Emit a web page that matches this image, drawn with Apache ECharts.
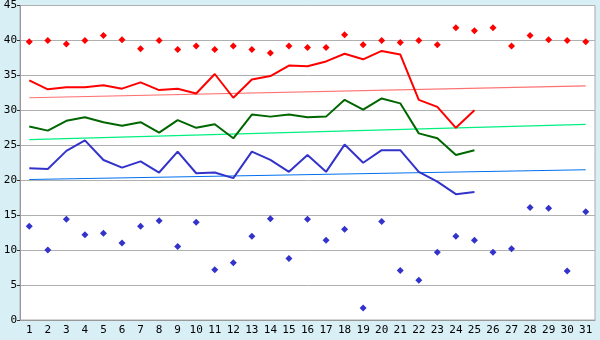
<!DOCTYPE html>
<html>
<head>
<meta charset="utf-8">
<script src="https://cdn.jsdelivr.net/npm/echarts@6/dist/echarts.min.js"></script>
<style>
  html, body { margin: 0; padding: 0; background: #d9eff6; }
  #chart { width: 600px; height: 340px; }
</style>
</head>
<body>
<div id="chart"></div>
<script>
// days of the month
var days = [];
for (var d = 1; d <= 31; d++) days.push(String(d));

// red line (daily high average)
var highLine = [34.3, 33.0, 33.3, 33.3, 33.6, 33.1, 34.0, 32.9, 33.1, 32.4, 35.2, 31.8, 34.4, 34.9, 36.4, 36.3,
  37.0, 38.1, 37.3, 38.5, 38.0, 31.5, 30.5, 27.5, 30.0];
// green line
var midLine = [27.7, 27.1, 28.5, 29.0, 28.3, 27.8, 28.3, 26.8, 28.6, 27.5, 28.0, 26.0, 29.4, 29.1, 29.4, 29.0,
  29.1, 31.5, 30.1, 31.7, 31.0, 26.7, 26.0, 23.6, 24.3];
// blue line
var lowLine = [21.7, 21.6, 24.2, 25.7, 22.9, 21.8, 22.7, 21.1, 24.1, 21.0, 21.1, 20.3, 24.1, 22.9, 21.2, 23.6,
  21.2, 25.1, 22.5, 24.3, 24.3, 21.2, 19.8, 18.0, 18.3];
// red diamonds (record highs)
var highDots = [39.8, 40.0, 39.5, 40.0, 40.7, 40.1, 38.8, 40.0, 38.7, 39.2, 38.7, 39.2, 38.7, 38.2, 39.2, 39.0,
  39.0, 40.8, 39.4, 40.0, 39.7, 40.0, 39.4, 41.8, 41.4, 41.8, 39.2, 40.7, 40.1, 40.0, 39.8];
// blue diamonds (record lows)
var lowDots = [13.4, 10.0, 14.4, 12.2, 12.4, 11.0, 13.4, 14.2, 10.5, 14.0, 7.2, 8.2, 12.0, 14.5, 8.8, 14.4,
  11.4, 13.0, 1.7, 14.1, 7.1, 5.7, 9.7, 12.0, 11.4, 9.7, 10.2, 16.1, 16.0, 7.0, 15.5];
// trend lines: value at day 1 and at day 31
var highTrend = [31.8, 33.5];
var midTrend = [25.8, 28.0];
var lowTrend = [20.1, 21.5];

var yTicks = [0, 5, 10, 15, 20, 25, 30, 35, 40, 45];

function trend(ends) {
  return [[0, ends[0]], [days.length - 1, ends[1]]];
}

var myChart = echarts.init(document.getElementById('chart'));
var font = 'DejaVu Sans Mono';

myChart.setOption({
  backgroundColor: '#d9eff6',
  animation: false,
  grid: {
    left: 20, right: 5, top: 5, bottom: 20,
    show: true,
    backgroundColor: '#ffffff',
    borderColor: '#aaaaaa',
    borderWidth: 1
  },
  xAxis: {
    type: 'category',
    data: days,
    boundaryGap: true,
    axisLine: { lineStyle: { color: '#999999', width: 1 } },
    axisTick: { alignWithLabel: true, length: 4, lineStyle: { color: '#333333' } },
    axisLabel: { color: '#000', fontFamily: font, fontSize: 11, margin: 5, interval: 0 },
    splitLine: { show: false }
  },
  yAxis: {
    type: 'value',
    min: yTicks[0],
    max: yTicks[yTicks.length - 1],
    interval: 5,
    axisLine: { show: true, lineStyle: { color: '#999999', width: 1 } },
    axisTick: { show: true, length: 3, lineStyle: { color: '#333333' } },
    axisLabel: { color: '#000', fontFamily: font, fontSize: 11, margin: 3 },
    splitLine: { lineStyle: { color: '#b0b0b0', width: 1 } }
  },
  series: [
    {
      type: 'line', data: trend(highTrend), symbol: 'none',
      lineStyle: { color: '#ff7070', width: 1.2 }, z: 2
    },
    {
      type: 'line', data: trend(midTrend), symbol: 'none',
      lineStyle: { color: '#00f080', width: 1.2 }, z: 2
    },
    {
      type: 'line', data: trend(lowTrend), symbol: 'none',
      lineStyle: { color: '#0070f0', width: 1.2 }, z: 2
    },
    {
      type: 'line', data: highLine, symbol: 'none',
      lineStyle: { color: '#ff0000', width: 2 }, z: 3
    },
    {
      type: 'line', data: midLine, symbol: 'none',
      lineStyle: { color: '#006600', width: 2 }, z: 3
    },
    {
      type: 'line', data: lowLine, symbol: 'none',
      lineStyle: { color: '#3333cc', width: 2 }, z: 3
    },
    {
      type: 'scatter', data: highDots, symbol: 'diamond', symbolSize: 7,
      itemStyle: { color: '#ff0000', opacity: 1 }, z: 4
    },
    {
      type: 'scatter', data: lowDots, symbol: 'diamond', symbolSize: 7,
      itemStyle: { color: '#3333cc', opacity: 1 }, z: 4
    }
  ]
});
</script>
</body>
</html>
